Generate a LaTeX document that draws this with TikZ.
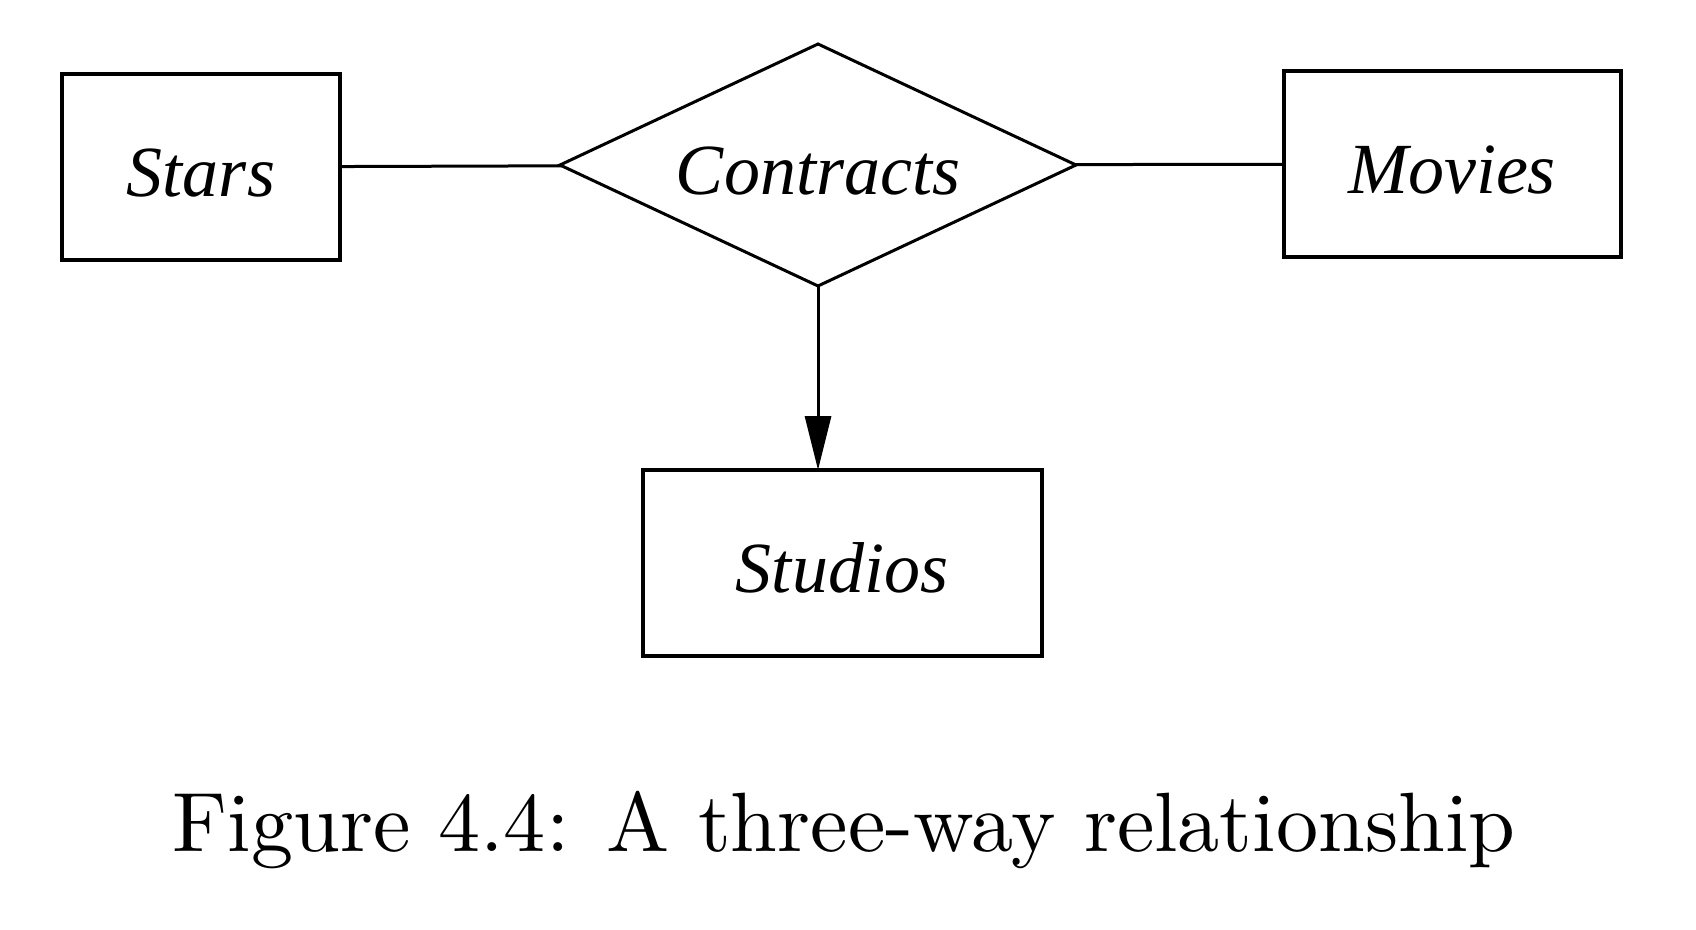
\documentclass[tikz,border=0pt]{standalone}
\usepackage{fontspec}
\usepackage{graphicx}
\usepackage{tikz}
\usetikzlibrary{shapes.geometric, arrows.meta, positioning}
\newfontfamily\erfont{Liberation Serif}
\tikzset{
 entity/.style = {
    rectangle, draw, line width=2pt,
    minimum height=93pt,
    text height=30pt, text depth=0.6pt,
    outer sep=0pt,
    font=\erfont\itshape\fontsize{36}{40}\selectfont},
 relation/.style = {
    diamond, draw, line width=1.5pt, aspect=2.1,
    minimum width=258pt, minimum height=121pt,
    text height=30pt, text depth=0.6pt,
    outer sep=0pt,
    font=\erfont\itshape\fontsize{36}{40}\selectfont},
 link/.style = {
    draw, line width=1.5pt},
 line/.style = {
    draw, line width=1.5pt, -{Triangle[length=27pt,width=13pt]}},
}
\begin{document}
\begin{tikzpicture}[x=0.5pt, y=-0.5pt]
                            \useasboundingbox (0,0) rectangle (1696,930);

                            % Place nodes
                            \node [entity, minimum width=139pt]   (stars)   at (201,167)    {Stars};
                            \node [relation]                      (contr)   at (818,165)    {Contracts};
                            \node [entity, minimum width=168.5pt] (movies)  at (1452,164)   {Movies};
                            \node [entity, minimum width=199.5pt] (studios) at (842,563)    {Studios};
                            \node (caption) at (844,830) {\scalebox{4.21}{\fontsize{10}{12}\selectfont Figure 4.4: A three-way relationship}};

                        \draw[link] (stars) -- (contr);
                        \draw[link] (contr) -- (movies);
                        \draw[line] (contr.south) -- (contr.south |- studios.north);
                        \end{tikzpicture}
\end{document}
